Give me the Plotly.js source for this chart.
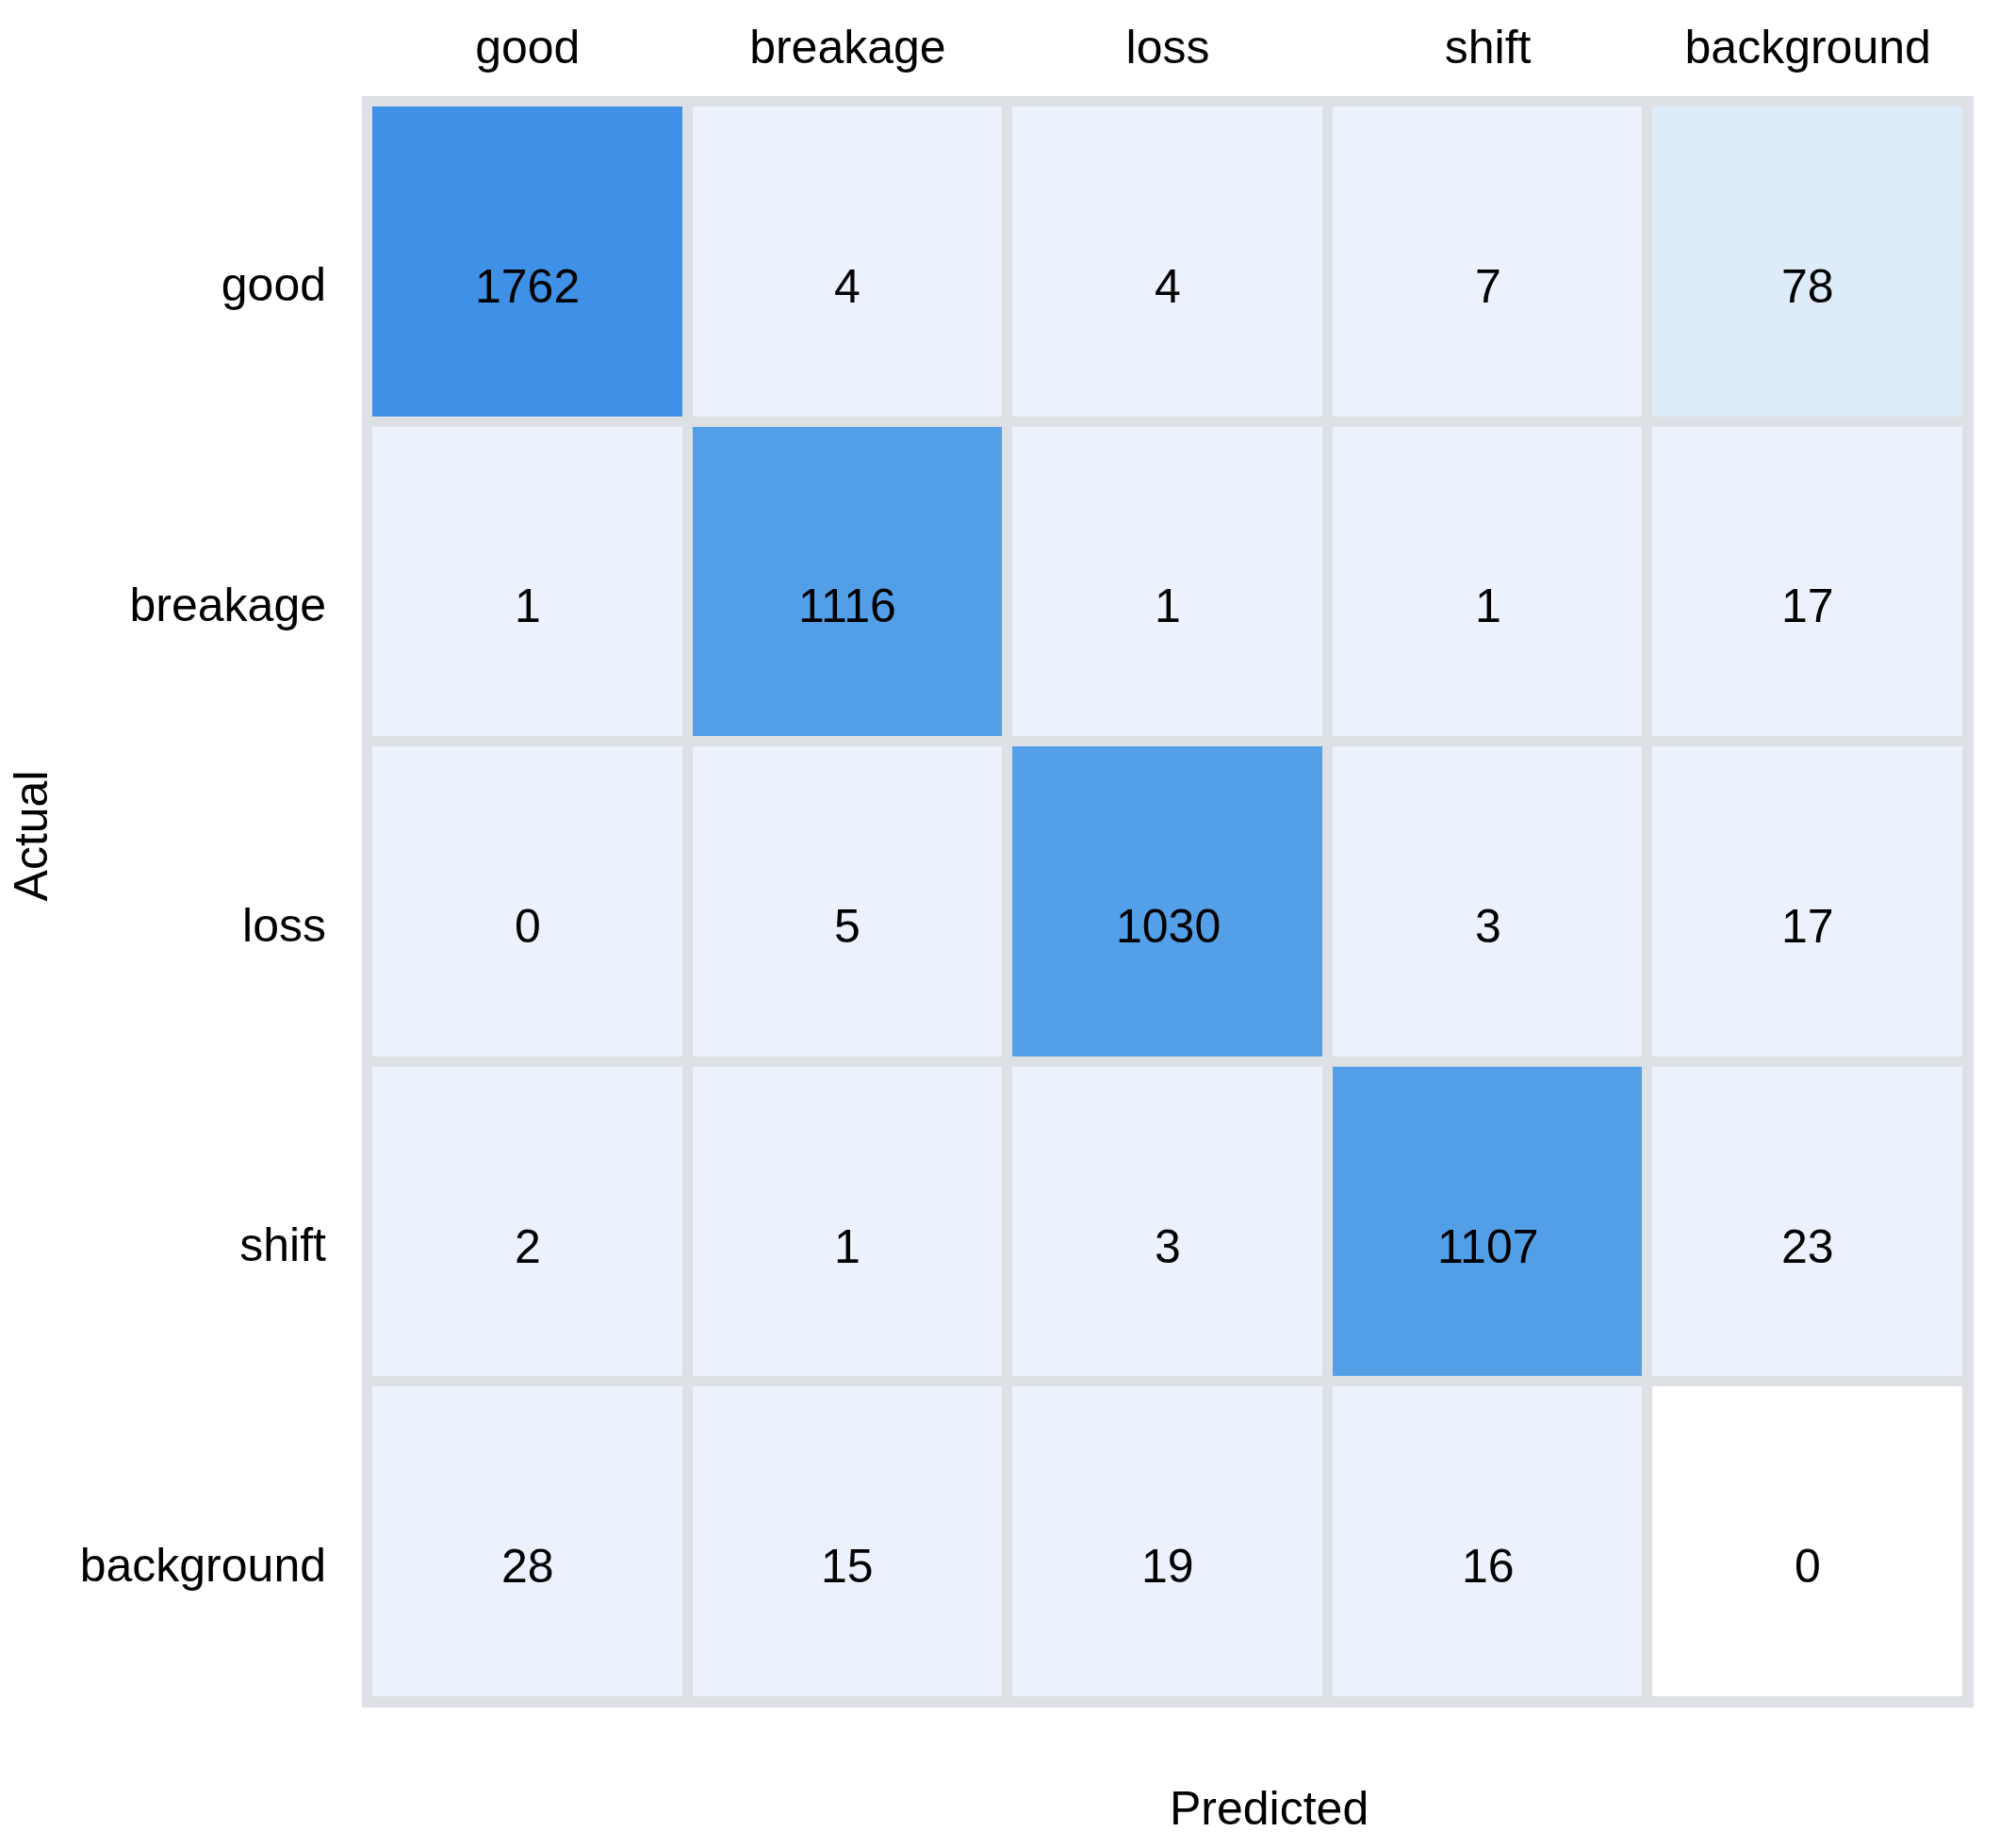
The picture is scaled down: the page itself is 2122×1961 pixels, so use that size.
<!DOCTYPE html>
<html>
<head>
<meta charset="utf-8">
<script src="https://cdn.plot.ly/plotly-3.0.1.min.js"></script>
<style>
  html, body { margin: 0; padding: 0; background: #fff; }
  #chart { width: 2122px; height: 1961px; }
</style>
</head>
<body>
<div id="chart"></div>
<script>
// confusion matrix: rows = actual, columns = predicted
const predictedLabels = ['good', 'breakage', 'loss', 'shift', 'background'];
const actualLabels = ['good', 'breakage', 'loss', 'shift', 'background'];

const rowGood = [1762, 4, 4, 7, 78];
const rowBreakage = [1, 1116, 1, 1, 17];
const rowLoss = [0, 5, 1030, 3, 17];
const rowShift = [2, 1, 3, 1107, 23];
const rowBackground = [28, 15, 19, 16, 0];

const counts = [rowGood, rowBreakage, rowLoss, rowShift, rowBackground];

const gridGray = '#dde0e5';
const fontFam = '"Liberation Sans", Arial, Helvetica, sans-serif';
const fs = 50;
const zMax = Math.max(...counts.flat());

// background/background has no meaning, it is left uncoloured
const colorZ = counts.map((row, i) => row.map((v, j) =>
  (actualLabels[i] === 'background' && predictedLabels[j] === 'background') ? null : v));

// cell value labels
let cellText = [];
counts.forEach((row, i) => {
  row.forEach((v, j) => {
    cellText.push({
      x: predictedLabels[j],
      y: actualLabels[i],
      xref: 'x', yref: 'y',
      text: String(v),
      showarrow: false,
      font: {family: fontFam, size: fs, color: '#000'},
      yshift: -26
    });
  });
});

let common = {
  type: 'heatmap',
  x: predictedLabels,
  y: actualLabels,
  xgap: 11,
  ygap: 11,
  showscale: false,
  hoverinfo: 'skip'
};

// white bricks underneath, so the empty cell stays white
let base = Object.assign({}, common, {
  z: counts,
  colorscale: [[0, '#ffffff'], [1, '#ffffff']]
});

let trace = Object.assign({}, common, {
  z: colorZ,
  zmin: 0,
  zmax: zMax,
  colorscale: [
    [0, '#ebf2fc'],
    [0.017, '#ebf2fc'],
    [0.045, '#deecfa'],
    [0.55, '#539fe8'],
    [0.64, '#529fe8'],
    [1, '#3f91e8']
  ]
});

let layout = {
  width: 2122,
  height: 1961,
  margin: {l: 390, r: 34, t: 108, b: 155, pad: 0},
  paper_bgcolor: '#ffffff',
  plot_bgcolor: gridGray,
  font: {family: fontFam, size: fs, color: '#000'},
  xaxis: {
    type: 'category',
    side: 'top',
    showline: true, mirror: true, linecolor: gridGray, linewidth: 6,
    showgrid: false, zeroline: false, ticks: '',
    tickfont: {size: fs},
    ticklabelstandoff: 15,
    fixedrange: true
  },
  yaxis: {
    type: 'category',
    autorange: 'reversed',
    showline: true, mirror: true, linecolor: gridGray, linewidth: 6,
    showgrid: false, zeroline: false, ticks: '',
    tickfont: {size: fs},
    ticklabelstandoff: 28,
    ticklabelshift: -24,
    fixedrange: true
  },
  annotations: cellText.concat([
    {
      text: 'Predicted', xref: 'paper', yref: 'paper',
      x: 0.5636, y: -0.0665, xanchor: 'center', yanchor: 'middle',
      showarrow: false, font: {size: fs}
    },
    {
      text: 'Actual', xref: 'paper', yref: 'paper',
      x: -0.2102, y: 0.541, xanchor: 'center', yanchor: 'middle',
      textangle: -90, showarrow: false, font: {size: fs}
    }
  ])
};

Plotly.newPlot('chart', [base, trace], layout, {displayModeBar: false, staticPlot: true});
</script>
</body>
</html>
